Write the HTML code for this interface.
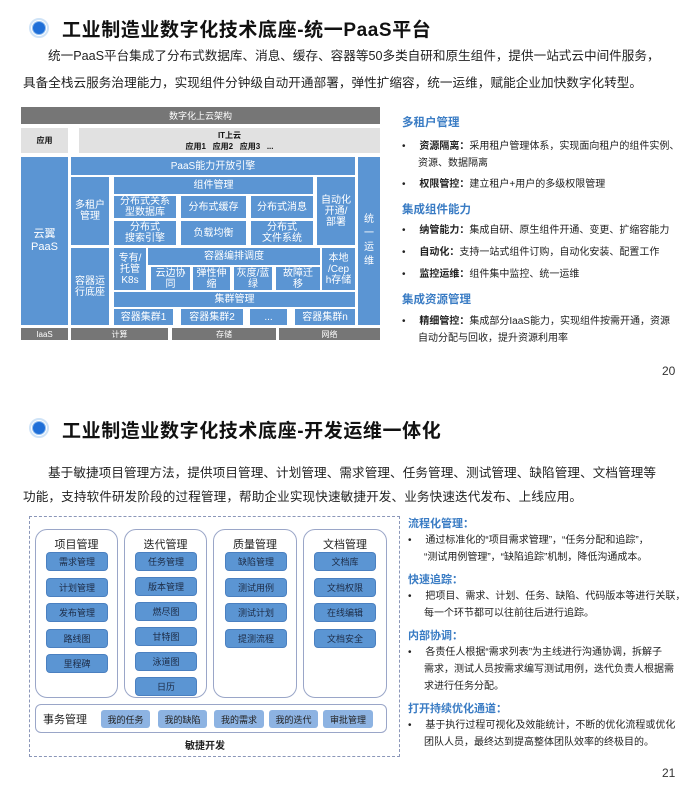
<!DOCTYPE html>
<html><head><meta charset="utf-8"><style>
*{margin:0;padding:0;box-sizing:border-box}
body{width:694px;height:803px;background:#fff;position:relative;overflow:hidden;font-family:"Liberation Sans","Noto Sans CJK SC",sans-serif;color:#222}
.a{position:absolute}
.b{position:absolute;background:#5b95d3;color:#fff;display:flex;align-items:center;justify-content:center;text-align:center;font-size:10px;line-height:11px}
.g{position:absolute;background:#767676;color:#fff;display:flex;align-items:center;justify-content:center;font-size:8px}
.lg{position:absolute;background:#e1e1e1;color:#111;display:flex;align-items:center;justify-content:center;font-size:8px;font-weight:bold;text-align:center;line-height:11px}
.h{position:absolute;font-size:19px;font-weight:bold;color:#111;white-space:nowrap;letter-spacing:0.6px}
.icon{position:absolute;width:20px;height:20px;border-radius:50%;border:2px solid #cfe3f7;background:#fff}
.icon:after{content:"";position:absolute;left:2px;top:2px;width:12px;height:12px;border-radius:50%;background:#1f6fd8;box-shadow:0 0 0 1px #8fbcee}
.p{position:absolute;font-size:12.6px;white-space:nowrap;color:#222;text-align:justify;text-align-last:justify}
.t{position:absolute;font-size:10px;white-space:nowrap;color:#222;line-height:19px}
.t b{font-weight:bold}
.hb{position:absolute;font-size:11.5px;font-weight:bold;color:#3a7cc4;white-space:nowrap}
.col{position:absolute;border:1px solid #9aa6c8;border-radius:12px;background:#fff}
.ct{position:absolute;font-size:11px;color:#222;width:100%;text-align:center;top:6px}
.i{position:absolute;width:60px;height:17px;background:#5b95d3;border-radius:3px;color:#1c2b45;font-size:9px;display:flex;align-items:center;justify-content:center;box-shadow:0 0 0 1px #4b80c0}
.j{position:absolute;height:18px;background:#8db3e2;border-radius:3px;color:#222;font-size:9px;display:flex;align-items:center;justify-content:center;top:710px}
</style></head><body>
<div class="icon" style="left:29px;top:18px"></div>
<div class="h" style="left:62px;top:15px">工业制造业数字化技术底座-统一PaaS平台</div>
<div class="p" style="left:48px;top:45px;width:607px">统一PaaS平台集成了分布式数据库、消息、缓存、容器等50多类自研和原生组件，提供一站式云中间件服务，</div>
<div class="p" style="left:23px;top:72px;width:619px">具备全栈云服务治理能力，实现组件分钟级自动开通部署，弹性扩缩容，统一运维，赋能企业加快数字化转型。</div>

<div class="g" style="left:21px;top:107px;width:359px;height:17px;font-size:9px">数字化上云架构</div>
<div class="lg" style="left:21px;top:128px;width:47px;height:25px">应用</div>
<div class="lg" style="left:79px;top:128px;width:301px;height:25px">IT上云<br>应用1 &nbsp; 应用2 &nbsp; 应用3 &nbsp; ...</div>
<div class="b" style="left:21px;top:157px;width:47px;height:168px;font-size:11px;line-height:13px">云翼<br>PaaS</div>
<div class="b" style="left:71px;top:157px;width:284px;height:18px">PaaS能力开放引擎</div>
<div class="b" style="left:358px;top:157px;width:22px;height:168px;line-height:14px">统<br>一<br>运<br>维</div>
<div class="b" style="left:71px;top:177px;width:38px;height:68px">多租户<br>管理</div>
<div class="b" style="left:114px;top:177px;width:199px;height:17px">组件管理</div>
<div class="b" style="left:114px;top:196px;width:62px;height:22px">分布式关系<br>型数据库</div>
<div class="b" style="left:181px;top:196px;width:65px;height:22px">分布式缓存</div>
<div class="b" style="left:251px;top:196px;width:62px;height:22px">分布式消息</div>
<div class="b" style="left:114px;top:221px;width:62px;height:24px">分布式<br>搜索引擎</div>
<div class="b" style="left:181px;top:221px;width:65px;height:24px">负载均衡</div>
<div class="b" style="left:251px;top:221px;width:62px;height:24px">分布式<br>文件系统</div>
<div class="b" style="left:317px;top:177px;width:38px;height:68px">自动化<br>开通/<br>部署</div>
<div class="b" style="left:71px;top:248px;width:38px;height:77px">容器运<br>行底座</div>
<div class="b" style="left:114px;top:248px;width:32px;height:42px">专有/<br>托管<br>K8s</div>
<div class="b" style="left:148px;top:248px;width:172px;height:17px">容器编排调度</div>
<div class="b" style="left:151px;top:267px;width:39px;height:23px">云边协<br>同</div>
<div class="b" style="left:193px;top:267px;width:37px;height:23px">弹性伸<br>缩</div>
<div class="b" style="left:234px;top:267px;width:38px;height:23px">灰度/蓝<br>绿</div>
<div class="b" style="left:276px;top:267px;width:44px;height:23px">故障迁<br>移</div>
<div class="b" style="left:322px;top:248px;width:33px;height:42px">本地<br>/Cep<br>h存储</div>
<div class="b" style="left:114px;top:292px;width:241px;height:15px">集群管理</div>
<div class="b" style="left:114px;top:309px;width:59px;height:16px">容器集群1</div>
<div class="b" style="left:181px;top:309px;width:62px;height:16px">容器集群2</div>
<div class="b" style="left:250px;top:309px;width:37px;height:16px">...</div>
<div class="b" style="left:295px;top:309px;width:60px;height:16px">容器集群n</div>
<div class="g" style="left:21px;top:328px;width:47px;height:12px">IaaS</div>
<div class="g" style="left:71px;top:328px;width:97px;height:12px">计算</div>
<div class="g" style="left:172px;top:328px;width:104px;height:12px">存储</div>
<div class="g" style="left:279px;top:328px;width:101px;height:12px">网络</div>

<div class="hb" style="left:402px;top:114px">多租户管理</div>
<div class="t" style="left:402px;top:137px">•&nbsp;&nbsp;&nbsp;&nbsp; <b>资源隔离：</b>采用租户管理体系，实现面向租户的组件实例、</div>
<div class="t" style="left:418px;top:154px">资源、数据隔离</div>
<div class="t" style="left:402px;top:175px">•&nbsp;&nbsp;&nbsp;&nbsp; <b>权限管控：</b>建立租户+用户的多级权限管理</div>
<div class="hb" style="left:402px;top:201px">集成组件能力</div>
<div class="t" style="left:402px;top:221px">•&nbsp;&nbsp;&nbsp;&nbsp; <b>纳管能力：</b>集成自研、原生组件开通、变更、扩缩容能力</div>
<div class="t" style="left:402px;top:243px">•&nbsp;&nbsp;&nbsp;&nbsp; <b>自动化：</b>支持一站式组件订购，自动化安装、配置工作</div>
<div class="t" style="left:402px;top:265px">•&nbsp;&nbsp;&nbsp;&nbsp; <b>监控运维：</b>组件集中监控、统一运维</div>
<div class="hb" style="left:402px;top:291px">集成资源管理</div>
<div class="t" style="left:402px;top:312px">•&nbsp;&nbsp;&nbsp;&nbsp; <b>精细管控：</b>集成部分IaaS能力，实现组件按需开通，资源</div>
<div class="t" style="left:418px;top:329px">自动分配与回收，提升资源利用率</div>
<div class="a" style="left:662px;top:364px;font-size:12px;color:#333">20</div>

<div class="icon" style="left:29px;top:418px"></div>
<div class="h" style="left:62px;top:416px">工业制造业数字化技术底座-开发运维一体化</div>
<div class="p" style="left:48px;top:462px;width:608px">基于敏捷项目管理方法，提供项目管理、计划管理、需求管理、任务管理、测试管理、缺陷管理、文档管理等</div>
<div class="p" style="left:23px;top:486px;width:559px">功能，支持软件研发阶段的过程管理，帮助企业实现快速敏捷开发、业务快速迭代发布、上线应用。</div>

<div class="a" style="left:29px;top:516px;width:371px;height:241px;border:1px dashed #8a96b8"></div>
<div class="col" style="left:35px;top:529px;width:83px;height:169px"><div class="ct">项目管理</div></div>
<div class="col" style="left:124px;top:529px;width:83px;height:169px"><div class="ct">迭代管理</div></div>
<div class="col" style="left:213px;top:529px;width:84px;height:169px"><div class="ct">质量管理</div></div>
<div class="col" style="left:303px;top:529px;width:84px;height:169px"><div class="ct">文档管理</div></div>
<div class="i" style="left:47px;top:553px">需求管理</div>
<div class="i" style="left:47px;top:579px">计划管理</div>
<div class="i" style="left:47px;top:604px">发布管理</div>
<div class="i" style="left:47px;top:630px">路线图</div>
<div class="i" style="left:47px;top:655px">里程碑</div>
<div class="i" style="left:136px;top:553px">任务管理</div>
<div class="i" style="left:136px;top:578px">版本管理</div>
<div class="i" style="left:136px;top:603px">燃尽图</div>
<div class="i" style="left:136px;top:628px">甘特图</div>
<div class="i" style="left:136px;top:653px">泳道图</div>
<div class="i" style="left:136px;top:678px">日历</div>
<div class="i" style="left:226px;top:553px">缺陷管理</div>
<div class="i" style="left:226px;top:579px">测试用例</div>
<div class="i" style="left:226px;top:604px">测试计划</div>
<div class="i" style="left:226px;top:630px">提测流程</div>
<div class="i" style="left:315px;top:553px">文档库</div>
<div class="i" style="left:315px;top:579px">文档权限</div>
<div class="i" style="left:315px;top:604px">在线编辑</div>
<div class="i" style="left:315px;top:630px">文档安全</div>
<div class="a" style="left:35px;top:704px;width:352px;height:29px;border:1px solid #9aa6c8;border-radius:6px"></div>
<div class="a" style="left:43px;top:711px;font-size:11px">事务管理</div>
<div class="j" style="left:101px;width:49px">我的任务</div>
<div class="j" style="left:158px;width:49px">我的缺陷</div>
<div class="j" style="left:214px;width:50px">我的需求</div>
<div class="j" style="left:269px;width:49px">我的迭代</div>
<div class="j" style="left:323px;width:50px">审批管理</div>
<div class="a" style="left:185px;top:737px;font-size:10px;font-weight:bold">敏捷开发</div>

<div class="hb" style="left:408px;top:515px;font-size:11px">流程化管理：</div>
<div class="t" style="left:408px;top:531px">•&nbsp;&nbsp;&nbsp;&nbsp; 通过标准化的“项目需求管理”，“任务分配和追踪”，</div>
<div class="t" style="left:424px;top:548px">“测试用例管理”，“缺陷追踪”机制，降低沟通成本。</div>
<div class="hb" style="left:408px;top:571px;font-size:11px">快速追踪：</div>
<div class="t" style="left:408px;top:587px">•&nbsp;&nbsp;&nbsp;&nbsp; 把项目、需求、计划、任务、缺陷、代码版本等进行关联，</div>
<div class="t" style="left:424px;top:604px">每一个环节都可以往前往后进行追踪。</div>
<div class="hb" style="left:408px;top:627px;font-size:11px">内部协调：</div>
<div class="t" style="left:408px;top:643px">•&nbsp;&nbsp;&nbsp;&nbsp; 各责任人根据“需求列表”为主线进行沟通协调，拆解子</div>
<div class="t" style="left:424px;top:660px">需求，测试人员按需求编写测试用例，迭代负责人根据需</div>
<div class="t" style="left:424px;top:677px">求进行任务分配。</div>
<div class="hb" style="left:408px;top:700px;font-size:11px">打开持续优化通道：</div>
<div class="t" style="left:408px;top:716px">•&nbsp;&nbsp;&nbsp;&nbsp; 基于执行过程可视化及效能统计，不断的优化流程或优化</div>
<div class="t" style="left:424px;top:733px">团队人员，最终达到提高整体团队效率的终极目的。</div>
<div class="a" style="left:662px;top:766px;font-size:12px;color:#333">21</div>
</body></html>
